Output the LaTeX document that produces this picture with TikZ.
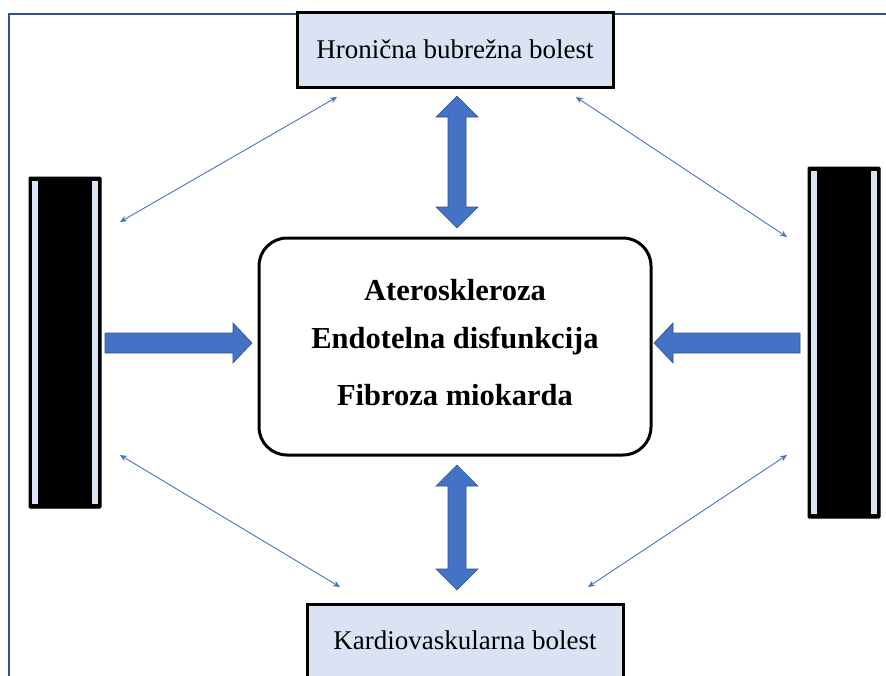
\documentclass[tikz,border=0pt]{standalone}
\usepackage{fontspec}
\setmainfont{Liberation Serif}
\usetikzlibrary{arrows.meta}
\definecolor{ablue}{HTML}{4472C4}
\definecolor{fblue}{HTML}{2F528F}
\definecolor{lblue}{HTML}{DAE3F3}
\tikzset{
  sidebox/.style={draw=black, line width=3pt, fill=lblue, inner sep=0pt},
  boxtext/.style={font=\fontsize{27}{31}\selectfont},
  midtext/.style={font=\bfseries\fontsize{30.5}{34}\selectfont},
  bar/.style={fill=black, draw=black, line width=1pt, rounded corners=1pt},
  strip/.style={fill=lblue},
  fat/.style={fill=ablue, draw=fblue, line width=0.6pt},
  thin/.style={draw=ablue, line width=0.9pt, {Stealth[length=7pt,width=6pt]}-{Stealth[length=7pt,width=6pt]}},
}
\begin{document}
\begin{tikzpicture}[x=1pt,y=-1pt]
\useasboundingbox (0,0) rectangle (886,675);
% outer frame
\draw[fblue, line width=1.2pt] (9,700) -- (9,14) -- (900,14);
% top and bottom boxes
\node[sidebox, minimum width=316pt, minimum height=75pt] (top) at (455,49.5) {};
\node[boxtext] (toptxt) at (455,49) {Hronična bubrežna bolest};
\node[sidebox, minimum width=316pt, minimum height=100pt, anchor=north] (bot) at (465,603) {};
\node[boxtext] (bottxt) at (465,640) {Kardiovaskularna bolest};
% centre box
\node[draw=black, line width=3pt, rounded corners=28pt, minimum width=392pt, minimum height=217pt, fill=white] (mid) at (455,346.5) {};
\node[midtext] (t1) at (455,290) {Ateroskleroza};
\node[midtext] (t2) at (455,341) {Endotelna disfunkcija};
\node[midtext] (t3) at (455,395) {Fibroza miokarda};
% side bars
\path[bar] (29,177) rectangle (101,508);
\path[strip] (32,181) rectangle (38,504);
\path[strip] (92,181) rectangle (98,504);
\path[bar] (808,167) rectangle (880,518);
\path[strip] (811,171) rectangle (817,514);
\path[strip] (871,171) rectangle (877,514);
% fat vertical double arrows
\path[fat] (457,96) -- (478,117) -- (466,117) -- (466,207) -- (478,207) -- (457,228) -- (436,207) -- (448,207) -- (448,117) -- (436,117) -- cycle;
\path[fat] (457,465) -- (478,486) -- (466,486) -- (466,569) -- (478,569) -- (457,590) -- (436,569) -- (448,569) -- (448,486) -- (436,486) -- cycle;
% fat horizontal arrows
\path[fat] (105,333) -- (233,333) -- (233,323) -- (252,343) -- (233,363) -- (233,353) -- (105,353) -- cycle;
\path[fat] (800,333) -- (673,333) -- (673,323) -- (654,343) -- (673,363) -- (673,353) -- (800,353) -- cycle;
% thin arrows
\coordinate (a1) at (120,222); \coordinate (a2) at (337,97);
\coordinate (b1) at (576,97); \coordinate (b2) at (787,237);
\coordinate (c1) at (120,455); \coordinate (c2) at (340,587);
\coordinate (d1) at (588,587); \coordinate (d2) at (787,455);
\draw[thin] (a1) -- (a2);
\draw[thin] (b1) -- (b2);
\draw[thin] (c1) -- (c2);
\draw[thin] (d1) -- (d2);
\end{tikzpicture}
\end{document}
